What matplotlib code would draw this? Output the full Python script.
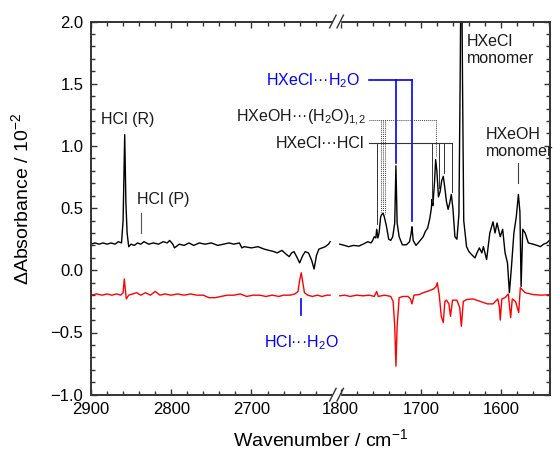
import numpy as np
import matplotlib
matplotlib.use('Agg')
import matplotlib.pyplot as plt
from matplotlib.patches import Rectangle

plt.rcParams['font.family'] = ['Liberation Sans', 'DejaVu Sans']
plt.rcParams['mathtext.fontset'] = 'custom'
plt.rcParams['mathtext.rm'] = 'Liberation Sans'
plt.rcParams['mathtext.it'] = 'Liberation Sans:italic'
plt.rcParams['mathtext.bf'] = 'Liberation Sans:bold'
plt.rcParams['mathtext.default'] = 'regular'

# --- spectra (wavenumber / cm-1, dAbs / 1e-2) ---
# high-wavenumber window, irradiated (black, offset)
hw_w_black = [2900, 2895, 2890, 2885, 2880, 2875, 2870, 2866, 2862, 2860, 2858,
              2856.5, 2855, 2853, 2850, 2846, 2842, 2838, 2834, 2828, 2822, 2816,
              2810, 2805, 2802, 2798, 2796, 2790, 2784, 2778, 2772, 2765, 2758,
              2750, 2742, 2735, 2728, 2722, 2715, 2712, 2709, 2700, 2692, 2684,
              2678, 2672, 2668, 2662, 2657, 2653, 2650, 2647, 2643, 2640, 2636,
              2633, 2629, 2625, 2622, 2619, 2616, 2612, 2608, 2604, 2602]
hw_a_black = [0.21, 0.22, 0.21, 0.22, 0.21, 0.22, 0.21, 0.23, 0.22, 0.40, 1.09,
              0.54, 0.30, 0.19, 0.21, 0.20, 0.22, 0.21, 0.23, 0.21, 0.22, 0.21,
              0.23, 0.22, 0.24, 0.21, 0.18, 0.21, 0.20, 0.22, 0.20, 0.22, 0.21,
              0.22, 0.20, 0.21, 0.22, 0.21, 0.22, 0.18, 0.19, 0.18, 0.19, 0.17,
              0.16, 0.15, 0.14, 0.16, 0.13, 0.11, 0.14, 0.15, 0.10, 0.06, 0.12,
              0.15, 0.14, 0.08, 0.01, 0.12, 0.17, 0.18, 0.19, 0.21, 0.23]
# high-wavenumber window, annealed (red, offset)
hw_w_red = [2900, 2893, 2886, 2880, 2874, 2868, 2863, 2860, 2858.5, 2857, 2856,
            2853, 2848, 2843, 2838, 2832, 2826, 2820, 2814, 2808, 2800, 2792,
            2784, 2776, 2768, 2760, 2753, 2745, 2738, 2730, 2722, 2714, 2706,
            2698, 2690, 2682, 2674, 2666, 2660, 2652, 2646, 2642, 2640, 2638,
            2636, 2634, 2630, 2624, 2618, 2612, 2606, 2602]
hw_a_red = [-0.20, -0.19, -0.20, -0.19, -0.20, -0.19, -0.20, -0.18, -0.07, -0.17,
            -0.23, -0.20, -0.19, -0.18, -0.20, -0.18, -0.20, -0.17, -0.20, -0.19,
            -0.20, -0.19, -0.20, -0.19, -0.20, -0.20, -0.22, -0.22, -0.21, -0.20,
            -0.20, -0.19, -0.21, -0.20, -0.20, -0.21, -0.20, -0.21, -0.20, -0.20,
            -0.19, -0.17, -0.08, -0.02, -0.10, -0.18, -0.20, -0.21, -0.20, -0.21,
            -0.20, -0.20]
# low-wavenumber window, irradiated (black)
lw_w_black = [1801, 1795, 1790, 1784, 1777, 1772, 1766, 1762, 1760, 1758, 1756,
              1755, 1753.5, 1752, 1750, 1748.5, 1747, 1745.5, 1743, 1740, 1737.5,
              1735, 1732.5, 1731, 1729.5, 1727, 1723, 1718, 1714, 1712, 1711,
              1709.5, 1706, 1702, 1697, 1694.5, 1691.5, 1689, 1687, 1686, 1685,
              1683, 1681.5, 1680, 1678, 1676, 1674, 1672, 1670, 1668, 1666, 1664,
              1662, 1660, 1657.5, 1655, 1652.5, 1651, 1650, 1649, 1648, 1646.5,
              1643, 1640, 1636.5, 1632.5, 1630, 1627, 1624, 1622, 1618, 1614,
              1610, 1607.5, 1605, 1601, 1598, 1595, 1592, 1589.6, 1587, 1584,
              1581, 1578.4, 1576.5, 1575, 1573, 1570, 1566, 1560, 1555, 1551,
              1547, 1543, 1539]
lw_a_black = [0.21, 0.20, 0.19, 0.20, 0.195, 0.21, 0.23, 0.22, 0.24, 0.27, 0.26,
              0.33, 0.26, 0.30, 0.43, 0.45, 0.46, 0.43, 0.36, 0.25, 0.24,
              0.27, 0.38, 0.84, 0.38, 0.27, 0.205, 0.205, 0.23, 0.30, 0.35,
              0.24, 0.20, 0.23, 0.27, 0.31, 0.34, 0.41, 0.49, 0.57, 0.52,
              0.70, 0.89, 0.80, 0.59, 0.63, 0.72, 0.755, 0.66, 0.55, 0.49, 0.54,
              0.61, 0.50, 0.27, 0.25, 0.45, 1.50, 2.40, 2.40, 1.50, 0.40,
              0.19, 0.15, 0.125, 0.10, 0.14, 0.18, 0.14, 0.19, 0.086, 0.30,
              0.39, 0.30, 0.38, 0.27, 0.33, 0.14, 0.06, -0.18, 0.03, 0.30,
              0.43, 0.61, 0.47, -0.13, 0.33, 0.30, 0.22, 0.21, 0.20, 0.19,
              0.21, 0.22, 0.245]
# low-wavenumber window, annealed (red)
lw_w_red = [1801, 1795, 1788, 1780, 1772, 1764, 1758, 1755, 1753, 1745, 1737.5,
            1734.5, 1732.5, 1731, 1729.5, 1727, 1722, 1716, 1713, 1711, 1708.5,
            1702, 1697, 1692, 1688, 1684, 1681, 1679.5, 1677, 1674.5, 1672, 1670,
            1668, 1665, 1663, 1660.5, 1655, 1651.5, 1649.5, 1647, 1643, 1635,
            1626, 1617, 1610, 1604, 1602, 1601, 1599, 1595, 1591, 1588, 1586,
            1582, 1578, 1576, 1570, 1560, 1550, 1539]
lw_a_red = [-0.205, -0.20, -0.21, -0.20, -0.205, -0.20, -0.21, -0.17, -0.21, -0.20,
            -0.21, -0.25, -0.45, -0.77, -0.45, -0.22, -0.21, -0.21, -0.23, -0.27,
            -0.20, -0.195, -0.18, -0.17, -0.16, -0.15, -0.13, -0.10, -0.20, -0.37,
            -0.42, -0.25, -0.24, -0.27, -0.37, -0.24, -0.24, -0.30, -0.45, -0.25,
            -0.235, -0.23, -0.25, -0.27, -0.27, -0.23, -0.30, -0.40, -0.23, -0.22,
            -0.19, -0.38, -0.23, -0.25, -0.34, -0.14, -0.18, -0.195, -0.20, -0.195]

# band assignments (wavenumbers of the marker lines)
hxecl_hcl_w = [1755, 1686, 1677, 1671, 1661.5]
hxecl_hcl_tip = [0.37, 0.55, 0.66, 0.78, 0.63]
hxeoh_h2o_w = [1750, 1747, 1744, 1681.5]
hxeoh_h2o_tip = [0.47, 0.48, 0.45, 0.92]
hxecl_h2o_w = [1731, 1710.5]
hxecl_h2o_tip = [0.865, 0.40]

SHIFT = 789  # axis break: 1800 cm-1 sits right after ~2590 cm-1


def xp(w):
    w = np.asarray(w, dtype=float)
    return np.where(w > 2000, w, w + SHIFT)


fig = plt.figure(figsize=(5.53, 4.49), dpi=100)
ax = fig.add_axes([91/553, 54.3/449, 459/553, 373.2/449])

ax.plot(xp(hw_w_black), hw_a_black, color='black', lw=1.0)
ax.plot(xp(lw_w_black), lw_a_black, color='black', lw=1.0)
ax.plot(xp(hw_w_red), hw_a_red, color='red', lw=1.0)
ax.plot(xp(lw_w_red), lw_a_red, color='red', lw=1.0)

ax.set_xlim(2900, 2328)
ax.set_ylim(-1.0, 2.0)

# ticks
major = [2900, 2800, 2700, 1800, 1700, 1600]
minor = [w for w in range(2880, 2590, -20) if w % 100] + \
        [w for w in range(1780, 1530, -20) if w % 100]
ax.set_xticks(xp(major))
ax.set_xticklabels([str(m) for m in major])
ax.set_xticks(xp(minor), minor=True)
ax.set_yticks(np.arange(-1.0, 2.01, 0.5))
ax.set_yticklabels(['\u22121.0', '\u22120.5', '0.0', '0.5', '1.0', '1.5', '2.0'])
ax.set_yticks(np.arange(-1.0, 2.01, 0.1), minor=True)
ax.tick_params(which='both', direction='in', top=True, right=True,
               labelsize=12, pad=5.5, width=1.0, color='#333333')
ax.tick_params(which='major', length=4.5)
ax.tick_params(which='minor', length=3)
for s in ax.spines.values():
    s.set_linewidth(1.4)
    s.set_color('#333333')

ax.set_xlabel('Wavenumber / cm$^{\u22121}$', fontsize=14)
ax.set_ylabel('\u0394Absorbance / 10$^{\u22122}$', fontsize=14)
ax.xaxis.set_label_coords(0.5, -0.09)
ax.yaxis.set_label_coords(-0.128, 0.525)

# axis break marks
fb = (2900 - 2594) / (2900 - 2328)
for yb in (0, 1):
    ax.add_patch(Rectangle((fb - 0.008, yb - 0.008), 0.016, 0.016,
                           transform=ax.transAxes, color='white',
                           clip_on=False, zorder=5))
    for off in (-0.008, 0.008):
        ax.plot([fb + off - 0.007, fb + off + 0.007], [yb - 0.017, yb + 0.017],
                transform=ax.transAxes, color='#333333', lw=1.0,
                clip_on=False, zorder=6)

# annotations
tc = '#1a1a1a'
ax.text(xp(2854), 1.21, 'HCl (R)', fontsize=11.5, ha='center', va='center', color=tc)
ax.text(xp(2810.5), 0.567, 'HCl (P)', fontsize=11.5, ha='center', va='center', color=tc)
ax.plot(xp([2838, 2838]), [0.30, 0.46], color='#555555', lw=0.8)

ax.plot(xp([2638, 2638]), [-0.23, -0.36], color='blue', lw=1.2)
ax.text(xp(2638), -0.58, 'HCl\u00b7\u00b7\u00b7H$_2$O', fontsize=11.5,
        ha='center', va='center', color='blue')

# HXeCl...H2O (blue)
yb_ = 1.527
ax.plot(xp([1764, hxecl_h2o_w[-1]]), [yb_, yb_], color='blue', lw=1.2)
for w, t in zip(hxecl_h2o_w, hxecl_h2o_tip):
    ax.plot(xp([w, w]), [yb_, t], color='blue', lw=1.2)
ax.text(xp(1776), yb_, 'HXeCl\u00b7\u00b7\u00b7H$_2$O', fontsize=11.5,
        ha='right', va='center', color='blue')

# HXeOH...(H2O)1,2 (dotted)
yd = 1.206
ax.plot(xp([1764, hxeoh_h2o_w[-1]]), [yd, yd], color='#444444', lw=0.7, ls=(0, (1, 1)))
for w, t in zip(hxeoh_h2o_w, hxeoh_h2o_tip):
    ax.plot(xp([w, w]), [yd, t], color='#444444', lw=0.7, ls=(0, (1, 1)))
ax.text(xp(1768), yd + 0.02, 'HXeOH\u00b7\u00b7\u00b7(H$_2$O)$_{1{,}2}$', fontsize=11.5,
        ha='right', va='center', color=tc)

# HXeCl...HCl (solid)
ys = 1.02
ax.plot(xp([1764.6, hxecl_hcl_w[-1]]), [ys, ys], color='#333333', lw=0.8)
for w, t in zip(hxecl_hcl_w, hxecl_hcl_tip):
    ax.plot(xp([w, w]), [ys, t], color='#333333', lw=0.7)
ax.text(xp(1770), ys, 'HXeCl\u00b7\u00b7\u00b7HCl', fontsize=11.5,
        ha='right', va='center', color=tc)

ax.text(xp(1642.5), 1.77, 'HXeCl\nmonomer', fontsize=11.5, ha='left',
        va='center', color=tc, linespacing=1.2)
ax.text(xp(1618.5), 1.025, 'HXeOH\nmonomer', fontsize=11.5, ha='left',
        va='center', color=tc, linespacing=1.2)
ax.plot(xp([1578.4, 1578.4]), [0.70, 0.865], color='#444444', lw=0.8)

fig.savefig('out.png', dpi=100)
